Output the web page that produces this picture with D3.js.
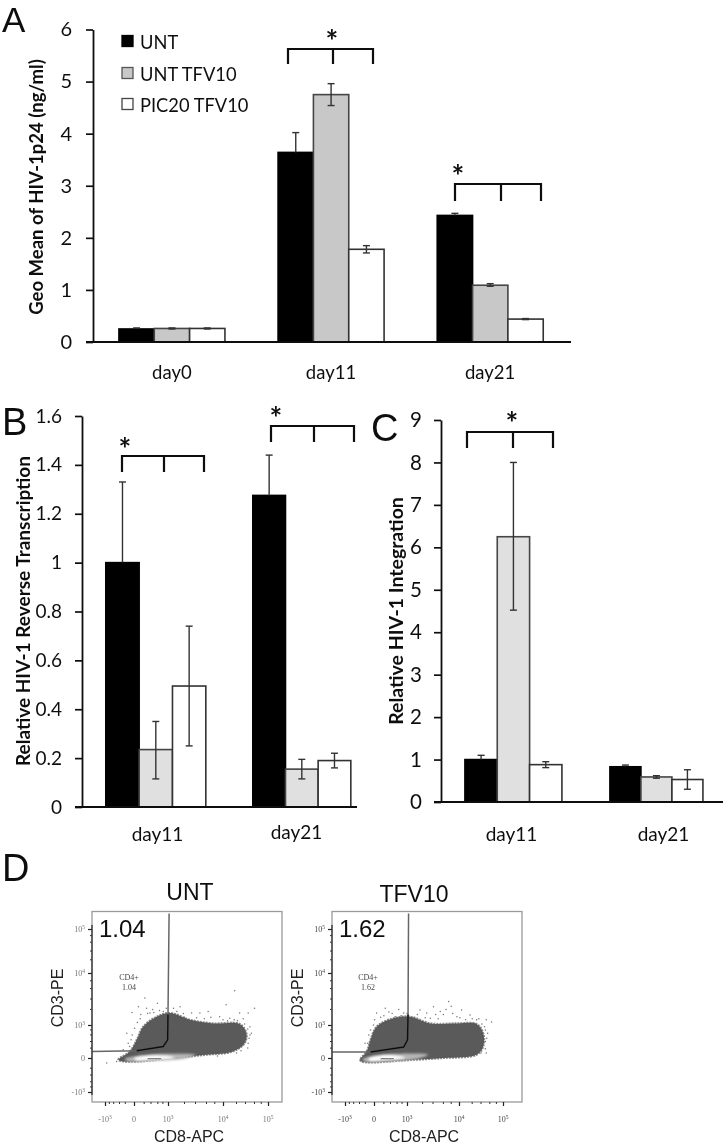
<!DOCTYPE html>
<html><head><meta charset="utf-8">
<script src="https://cdn.jsdelivr.net/npm/d3@7/dist/d3.min.js"></script>
<style>html,body{margin:0;padding:0;background:#fff}svg{display:block}</style>
</head><body><div id="c"></div>
<script>
// ---------- data ----------
const seriesNames = ["UNT", "UNT TFV10", "PIC20 TFV10"];
const daysA = ["day0", "day11", "day21"];
const valuesA = [[0.25, 0.26, 0.26], [3.64, 4.75, 1.78], [2.43, 1.09, 0.44]];
const errLowA = [[0.25, 0.25, 0.25], [3.64, 4.54, 1.71], [2.43, 1.07, 0.43]];
const errHighA = [[0.27, 0.27, 0.27], [4.02, 4.96, 1.85], [2.47, 1.12, 0.45]];
const daysB = ["day11", "day21"];
const valuesB = [[1.0, 0.235, 0.495], [1.275, 0.155, 0.19]];
const errLowB = [[1.0, 0.115, 0.25], [1.275, 0.115, 0.16]];
const errHighB = [[1.33, 0.35, 0.74], [1.44, 0.195, 0.22]];
const daysC = ["day11", "day21"];
const valuesC = [[1.0, 6.25, 0.88], [0.83, 0.59, 0.53]];
const errLowC = [[1.0, 4.52, 0.81], [0.83, 0.56, 0.3]];
const errHighC = [[1.1, 8.0, 0.95], [0.87, 0.62, 0.76]];
const ticksA = [0, 1, 2, 3, 4, 5, 6];
const ticksB = [0, 0.2, 0.4, 0.6, 0.8, 1, 1.2, 1.4, 1.6];
const ticksC = [0, 1, 2, 3, 4, 5, 6, 7, 8, 9];
// flow plots: coordinates in biexponential axis units (-1 = -10^3, 0, 1 = 10^3, 2 = 10^4, 3 = 10^5)
const flowTicks = [-1, 0, 1, 2, 3];
const flowTickLabels = ["-10|3", "0", "10|3", "10|4", "10|5"];
const blobUNT = [[-.54,-.05],[-.14,.2],[.08,.55],[.27,.95],[.67,1.16],[1.04,1.23],[1.4,1.1],[1.82,1.03],[2.37,1.02],[2.52,.75],[2.48,.45],[2.22,.2],[1.7,.1],[1.1,0],[.18,-.1],[-.37,-.1]];
const bandUNT = [[-.32,-.03],[.3,.09],[1,.13],[1.5,.1],[1.3,-.02],[.5,-.08],[-.2,-.1]];
const coreUNT = [[0,-.01],[.4,.07],[1,.06],[1.12,.01],[.5,-.06],[.05,-.06]];
const gateUNT = [[-1.45,.2],[.08,.22],[.86,.35],[.99,.55],[1,1.2],[1.02,3.35]];
const specksUNT = [[-.07,1.24],[.69,1.42],[.32,1.52],[.13,1.35],[1.22,1.35],[1.73,1.26],[2.07,1.39],[2.26,1.66],[2.7,1.32],[2.56,1.23],[2.37,1.23],[1.94,1.16],[1.58,1.23],[1.43,1.23],[2.63,.75],[2.56,.45],[-.25,.75],[-.2,.45],[-.37,.25],[-.94,-.15],[-.6,-.1],[.37,1.32],[.86,1.26],[1.16,1.26],[.47,1.23],[2.15,1.13],[.2,1.2],[.55,1.3],[1.3,1.15],[1.1,1.32],[2.45,1.12],[2.6,.95],
  [.1,1.05],[.18,1.12],[.02,.9],[-.06,.7],[-.1,.55],[-.15,.35],[.4,1.22],[.58,1.24],[.75,1.28],[.95,1.32],[1.28,1.22],[1.52,1.14],[1.66,1.12],[1.78,1.15],[2.0,1.1],[2.1,1.08],[2.25,1.1],[2.32,1.08],[2.48,1.02],[2.55,.88],[2.6,.7],[2.58,.6],[2.55,.3],[2.4,.22],[2.3,.15],[1.9,.06]];
const blobTFV = [[-.48,-.05],[-.25,.2],[-.12,.55],[.08,.95],[.59,1.13],[1.06,1.16],[1.45,1.03],[1.96,1.03],[2.4,1.02],[2.55,.75],[2.55,.35],[2.4,.1],[1.7,0],[.9,-.07],[-.12,-.13],[-.43,-.1]];
const bandTFV = [[-.4,-.04],[.1,.09],[.8,.13],[1.4,.1],[1.2,-.02],[.4,-.1],[-.3,-.11]];
const coreTFV = [[-.2,-.02],[.2,.07],[.75,.06],[.95,.01],[.4,-.06],[-.15,-.07]];
const gateTFV = [[-1.45,.18],[-.12,.18],[.9,.33],[1.01,.55],[1.02,1.2],[1.03,3.35]];
const specksTFV = [[.08,1.23],[.34,1.32],[.64,1.16],[.9,1.23],[1.51,1.35],[1.8,1.45],[1.64,1.26],[1.38,1.23],[2.06,1.29],[2.25,1.19],[2.62,1.1],[2.74,1.06],[2.65,.75],[2.62,.15],[-.12,.85],[-.31,.45],[1.13,1.13],[1.96,1.16],[1.45,1.13],[1.25,1.29],[.2,1.15],[.45,1.25],[.75,1.3],[1.7,1.2],[2.45,1.12],[2.58,.95],[2.6,.5],[1.55,1.2],
  [-.02,1.0],[.02,1.1],[-.18,.7],[-.22,.45],[.3,1.18],[.55,1.22],[.82,1.18],[1.0,1.22],[1.2,1.2],[1.35,1.14],[1.6,1.12],[1.75,1.3],[1.88,1.22],[2.02,1.14],[2.15,1.1],[2.3,1.12],[2.4,1.1],[2.52,1.02],[2.6,.85],[2.63,.6],[2.6,.28],[2.5,.15],[1.85,1.36],[1.55,.7],[1.7,.8],[1.4,.8]];

// ---------- drawing ----------
const W = 725, H = 1145, CAL = "Lato, 'Open Sans', sans-serif", ARIAL = "'Liberation Sans', Arial, sans-serif";
const svg = d3.select("#c").append("svg").attr("width", W).attr("height", H);
const defs = svg.append("defs");
defs.append("filter").attr("id", "soft").attr("x", 0).attr("y", 0).attr("width", 1).attr("height", 1)
  .append("feGaussianBlur").attr("stdDeviation", 0.4);
defs.append("filter").attr("id", "glow").attr("x", "-20%").attr("y", "-100%").attr("width", "140%").attr("height", "300%")
  .append("feGaussianBlur").attr("stdDeviation", 1.3);
const root = svg.append("g").attr("filter", "url(#soft)");
root.append("rect").attr("width", W).attr("height", H).attr("fill", "#fff");

function barPanel(o) {
  const g = root.append("g");
  const y = d3.scaleLinear().domain(o.yDomain).range(o.yRange);
  const x0 = d3.scaleBand().domain(o.days).range(o.xRange).paddingInner(o.inner).paddingOuter(o.outer);
  const yAxis = d3.axisLeft(y).tickValues(o.ticks).tickSize(7).tickSizeOuter(0).tickFormat(d => +d.toFixed(1));
  const ya = g.append("g").attr("transform", `translate(${o.xRange[0]},0)`).call(yAxis);
  ya.select(".domain").attr("stroke", "#111").attr("stroke-width", 1.8);
  ya.selectAll(".tick line").attr("stroke", "#111").attr("stroke-width", 1.7);
  ya.selectAll("text").attr("x", -o.tickGap).attr("font-family", CAL).attr("font-size", o.tickSize).attr("fill", "#111");
  // bars
  o.days.forEach((d, i) => {
    const x1 = d3.scaleBand().domain(d3.range(3)).range([0, o.groupW[i]]);
    const gg = g.append("g").attr("transform", `translate(${x0(d)},0)`);
    gg.selectAll("rect").data(o.values[i]).join("rect")
      .attr("x", (v, j) => x1(j)).attr("width", x1.bandwidth())
      .attr("y", v => y(v)).attr("height", v => y(0) - y(v))
      .attr("fill", (v, j) => ["#000", o.gray, "#fff"][j])
      .attr("stroke", (v, j) => ["#000", "#444", "#333"][j]).attr("stroke-width", 1.6);
    d3.range(3).forEach(j => {
      const cx = x1(j) + x1.bandwidth() / 2;
      const lo = o.low[i][j], hi = o.high[i][j];
      const col = "#333";
      gg.append("line").attr("x1", cx).attr("x2", cx).attr("y1", y(lo)).attr("y2", y(hi)).attr("stroke", col).attr("stroke-width", 1.4);
      gg.append("line").attr("x1", cx - 3.5).attr("x2", cx + 3.5).attr("y1", y(hi)).attr("y2", y(hi)).attr("stroke", col).attr("stroke-width", 1.4);
      if (lo < o.values[i][j]) gg.append("line").attr("x1", cx - 3.5).attr("x2", cx + 3.5).attr("y1", y(lo)).attr("y2", y(lo)).attr("stroke", col).attr("stroke-width", 1.4);
    });
  });
  // x axis
  g.append("line").attr("x1", o.xRange[0] - 7).attr("x2", o.axisEnd).attr("y1", y(0)).attr("y2", y(0)).attr("stroke", "#111").attr("stroke-width", 1.8);
  const xa = g.append("g").attr("transform", `translate(0,${y(0)})`).call(d3.axisBottom(x0).tickSize(0));
  xa.select(".domain").remove();
  xa.selectAll("text").attr("font-family", CAL).attr("font-size", o.catSize).attr("fill", "#111")
    .attr("dy", 0).attr("y", 0).attr("dominant-baseline", "central")
    .attr("transform", (d, i) => `translate(${o.catDx[i]},${o.catY[i] - y(0)})`);
  // y title
  g.append("text").attr("transform", `translate(${o.titleX},${o.titleY}) rotate(-90)`)
    .attr("text-anchor", "middle").attr("dominant-baseline", "central")
    .attr("font-family", CAL).attr("font-weight", 700).attr("font-size", o.titleSize).attr("fill", "#111").text(o.title);
  // significance brackets
  o.brackets.forEach(b => {
    const p = d3.path();
    p.moveTo(b.xs[0], b.bot); p.lineTo(b.xs[0], b.top); p.lineTo(b.xs[2], b.top); p.lineTo(b.xs[2], b.bot);
    p.moveTo(b.xs[1], b.top); p.lineTo(b.xs[1], b.bot);
    g.append("path").attr("d", p.toString()).attr("fill", "none").attr("stroke", "#111").attr("stroke-width", 2.2);
    g.append("text").attr("x", b.sx).attr("y", b.sy + 15).attr("text-anchor", "middle")
      .attr("font-family", CAL).attr("font-weight", 700).attr("font-size", 30).attr("fill", "#111").text("*");
  });
}

barPanel({ days: daysA, values: valuesA, low: errLowA, high: errHighA, ticks: ticksA, yDomain: [0, 6], yRange: [342, 29.5],
  xRange: [93, 569], inner: .335, outer: .163, groupW: [106, 106, 106], axisEnd: 571, gray: "#c8c8c8", tickGap: 21, tickSize: 20, catSize: 18.5,
  catDx: [0, 0, 0], catY: [372, 372, 372], title: "Geo Mean of HIV-1p24 (ng/ml)", titleX: 36, titleY: 187, titleSize: 18.5,
  brackets: [{ xs: [288, 333, 373], top: 49, bot: 64, sx: 332, sy: 37 }, { xs: [455, 501, 541], top: 184, bot: 201, sx: 458, sy: 172 }] });
barPanel({ days: daysB, values: valuesB, low: errLowB, high: errHighB, ticks: ticksB, yDomain: [0, 1.6], yRange: [807, 416],
  xRange: [82, 376], inner: .324, outer: .162, groupW: [100, 98], axisEnd: 357, gray: "#e0e0e0", tickGap: 20, tickSize: 19, catSize: 19,
  catDx: [2, -6], catY: [833, 831], title: "Relative HIV-1 Reverse Transcription", titleX: 22, titleY: 611, titleSize: 19,
  brackets: [{ xs: [122, 164, 204], top: 456, bot: 472, sx: 125, sy: 445 }, { xs: [271, 314, 354], top: 426, bot: 442, sx: 276, sy: 414 }] });
barPanel({ days: daysC, values: valuesC, low: errLowC, high: errHighC, ticks: ticksC, yDomain: [0, 9], yRange: [802, 420],
  xRange: [441, 731], inner: .33, outer: .165, groupW: [97, 93], axisEnd: 723, gray: "#e0e0e0", tickGap: 19, tickSize: 20.5, catSize: 19,
  catDx: [-2, 5], catY: [833, 833], title: "Relative HIV-1 Integration", titleX: 395, titleY: 611, titleSize: 19.5,
  brackets: [{ xs: [467, 513, 553], top: 432, bot: 448, sx: 512, sy: 419 }] });

// legend
seriesNames.forEach((s, i) => {
  const cy = [41, 73, 104][i];
  root.append("rect").attr("x", 122).attr("y", cy - 5.5).attr("width", 11).attr("height", 11)
    .attr("fill", ["#000", "#c8c8c8", "#fff"][i]).attr("stroke", ["#000", "#555", "#444"][i]).attr("stroke-width", 1.3);
  root.append("text").attr("x", 140).attr("y", cy + 1).attr("dominant-baseline", "central")
    .attr("font-family", CAL).attr("font-size", 18.3).attr("fill", "#111").text(s);
});

// panel letters
[["A", 2, 32, 35], ["B", 2, 435, 38], ["C", 371, 441, 38], ["D", 2, 881, 38]].forEach(([t, x, y, s]) =>
  root.append("text").attr("x", x).attr("y", y).attr("font-family", ARIAL).attr("font-size", s).attr("fill", "#111").text(t));

function flowPlot(o) {
  const g = root.append("g");
  const x = d3.scaleLinear().domain(flowTicks).range(o.xTicks);
  const y = d3.scaleLinear().domain(flowTicks).range([1092, 1058, 1025, 973, 929]);
  const line = d3.line().x(d => x(d[0])).y(d => y(d[1]));
  const closed = d3.line().x(d => x(d[0])).y(d => y(d[1])).curve(d3.curveCatmullRomClosed.alpha(.5));
  // frame
  g.append("rect").attr("x", o.left).attr("y", 911.5).attr("width", o.right - o.left).attr("height", 190.5)
    .attr("fill", "#fff").attr("stroke", "#9a9a9a").attr("stroke-width", 1.3);
  // specks and density
  g.selectAll(".sp").data(o.specks).join("circle").attr("cx", d => x(d[0])).attr("cy", d => y(d[1])).attr("r", .75).attr("fill", "#777");
  g.append("path").attr("d", closed(o.blob)).attr("fill", "#5a5a5a").attr("stroke", "#5a5a5a").attr("stroke-width", 2.2).attr("stroke-dasharray", "2 1").attr("stroke-opacity", .7);
  g.append("path").attr("d", closed(o.band)).attr("fill", "#b5b5b5").attr("filter", "url(#glow)");
  g.append("path").attr("d", closed(o.core)).attr("fill", "#fff").attr("filter", "url(#glow)");
  g.append("path").attr("d", line(o.core.slice(0, 2).map(d => [d[0] + .4, -.02]))).attr("stroke", "#777").attr("stroke-width", 1.2);
  // gate: grey in the empty area, black where it crosses the density
  g.append("path").attr("d", line(o.gate)).attr("fill", "none").attr("stroke", "#666").attr("stroke-width", 1.5);
  g.append("path").attr("d", line(o.gate.slice(1, 5))).attr("fill", "none").attr("stroke", "#111").attr("stroke-width", 1.5);
  // axes
  const tickColor = o.dark ? "#444" : "#777";
  const ya = g.append("g").attr("transform", `translate(${o.left},0)`).call(d3.axisLeft(y).tickValues(flowTicks).tickSize(4).tickFormat(""));
  const xa = g.append("g").attr("transform", `translate(0,1102)`).call(d3.axisBottom(x).tickValues(flowTicks).tickSize(4).tickFormat(""));
  [ya, xa].forEach(a => { a.select(".domain").remove(); a.selectAll("line").attr("stroke", "#222").attr("stroke-width", 1.2); });
  const minor = [];
  flowTicks.slice(0, 4).forEach(t => { [.3, .5, .7, .85].forEach(f => minor.push(t + (t < 0 ? 1 - f : f))); });
  g.selectAll(".mx").data(minor).join("line").attr("x1", d => x(d)).attr("x2", d => x(d)).attr("y1", 1102).attr("y2", 1104).attr("stroke", "#333");
  g.selectAll(".my").data(minor).join("line").attr("x1", o.left - 2).attr("x2", o.left).attr("y1", d => y(d)).attr("y2", d => y(d)).attr("stroke", "#333");
  g.append("line").attr("x1", o.left).attr("x2", o.left).attr("y1", 925).attr("y2", 1095).attr("stroke", "#333").attr("stroke-width", 1.3);
  const lab = (sel, t) => {
    const [b, e] = t.split("|");
    sel.append("tspan").text(b);
    if (e) sel.append("tspan").attr("dy", -3).attr("font-size", 5.5).text(e);
  };
  flowTicks.forEach((t, i) => {
    lab(g.append("text").attr("x", x(t)).attr("y", 1122).attr("text-anchor", "middle").attr("font-family", "'Liberation Serif', serif")
      .attr("font-size", 8).attr("fill", tickColor), flowTickLabels[i]);
    lab(g.append("text").attr("x", o.left - 7).attr("y", y(t) + 3).attr("text-anchor", "end").attr("font-family", "'Liberation Serif', serif")
      .attr("font-size", 8).attr("fill", tickColor), flowTickLabels[i]);
  });
  // labels
  g.append("text").attr("x", o.titleX).attr("y", o.titleY).attr("text-anchor", "middle").attr("font-family", ARIAL).attr("font-size", 23).attr("fill", "#111").text(o.title);
  g.append("text").attr("x", o.left + 7).attr("y", 937).attr("font-family", ARIAL).attr("font-size", 24).attr("fill", "#111").text(o.pct);
  g.append("text").attr("x", o.gateLabelX).attr("y", 980).attr("text-anchor", "middle").attr("font-family", "'Liberation Serif', serif").attr("font-size", 8).attr("fill", "#444").text("CD4+");
  g.append("text").attr("x", o.gateLabelX).attr("y", 990).attr("text-anchor", "middle").attr("font-family", "'Liberation Serif', serif").attr("font-size", 8).attr("fill", "#444").text(o.pct);
  g.append("text").attr("transform", `translate(${o.left - 35},998) rotate(-90)`).attr("text-anchor", "middle").attr("dominant-baseline", "central")
    .attr("font-family", ARIAL).attr("font-size", 16).attr("fill", "#222").text("CD3-PE");
  g.append("text").attr("x", o.xLabelX).attr("y", 1142).attr("text-anchor", "middle").attr("font-family", ARIAL).attr("font-size", 16).attr("fill", "#222").text("CD8-APC");
}
flowPlot({ left: 92, right: 282, xTicks: [105, 134, 168, 223, 268], blob: blobUNT, band: bandUNT, core: coreUNT, gate: gateUNT, specks: specksUNT,
  title: "UNT", titleX: 190, titleY: 900, pct: "1.04", gateLabelX: 129, xLabelX: 189 });
flowPlot({ left: 332, right: 522, xTicks: [345, 374, 407, 459, 503], blob: blobTFV, band: bandTFV, core: coreTFV, gate: gateTFV, specks: specksTFV, dark: true,
  title: "TFV10", titleX: 414, titleY: 902, pct: "1.62", gateLabelX: 368, xLabelX: 424 });
</script></body></html>
